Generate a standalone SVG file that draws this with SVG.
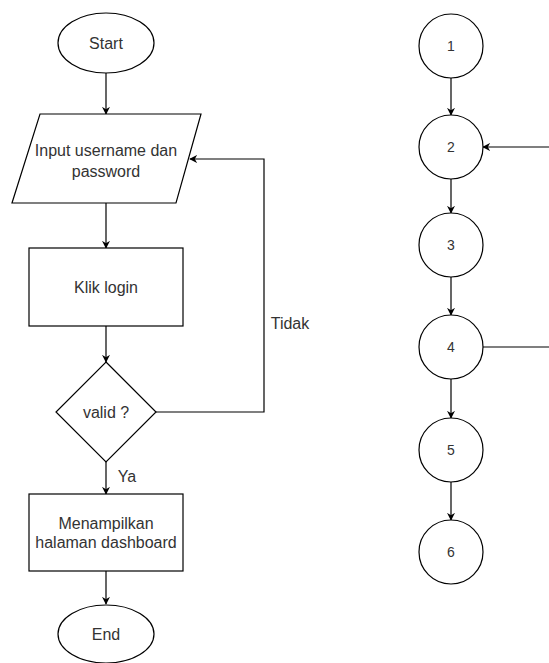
<svg xmlns="http://www.w3.org/2000/svg" width="549" height="663" viewBox="0 0 549 663">
  <defs>
    <marker id="arrow" viewBox="0 0 10 10" refX="9" refY="5" markerWidth="8" markerHeight="8" markerUnits="userSpaceOnUse" orient="auto">
      <path d="M0,0 L10,5 L0,10 L3,5 Z" fill="#000"/>
    </marker>
  </defs>
  <style>
    .shape { fill: #fff; stroke: #000; stroke-width: 1.2; }
    .edge { fill: none; stroke: #000; stroke-width: 1.2; }
    .lbl { font-family: "Liberation Sans", Arial, sans-serif; font-size: 16px; fill: #333; text-anchor: middle; dominant-baseline: central; }
    .num { font-size: 14px; }
  </style>
  <rect width="549" height="663" fill="#fff"/>

  <!-- flowchart connectors -->
  <g id="edges">
    <line class="edge" x1="106" y1="73" x2="106" y2="114" marker-end="url(#arrow)"/>
    <line class="edge" x1="106" y1="203" x2="106" y2="248" marker-end="url(#arrow)"/>
    <line class="edge" x1="106" y1="326" x2="106" y2="362" marker-end="url(#arrow)"/>
    <polyline class="edge" points="156,412 264,412 264,159 190,159" marker-end="url(#arrow)"/>
    <line class="edge" x1="106" y1="462" x2="106" y2="494" marker-end="url(#arrow)"/>
    <line class="edge" x1="106" y1="571" x2="106" y2="604" marker-end="url(#arrow)"/>
    <text class="lbl" x="290" y="323">Tidak</text>
    <text class="lbl" x="127" y="476">Ya</text>

    <!-- flow graph connectors -->
    <line class="edge" x1="451" y1="78" x2="451" y2="115" marker-end="url(#arrow)"/>
    <line class="edge" x1="451" y1="179" x2="451" y2="213" marker-end="url(#arrow)"/>
    <line class="edge" x1="451" y1="277" x2="451" y2="315" marker-end="url(#arrow)"/>
    <line class="edge" x1="451" y1="379" x2="451" y2="418" marker-end="url(#arrow)"/>
    <line class="edge" x1="451" y1="482" x2="451" y2="520" marker-end="url(#arrow)"/>
    <line class="edge" x1="549" y1="147" x2="483" y2="147" marker-end="url(#arrow)"/>
    <line class="edge" x1="483" y1="347" x2="549" y2="347"/>
  </g>

  <g id="start">
    <ellipse class="shape" cx="106" cy="43" rx="48" ry="30"/>
    <text class="lbl" x="106" y="43">Start</text>
  </g>
  <g id="input">
    <polygon class="shape" points="40,114 201,114 176,203 12,203"/>
    <text class="lbl" x="106" y="150">Input username dan</text>
    <text class="lbl" x="106" y="171">password</text>
  </g>
  <g id="klik-login">
    <rect class="shape" x="29" y="248" width="154" height="78"/>
    <text class="lbl" x="106" y="287">Klik login</text>
  </g>
  <g id="valid">
    <polygon class="shape" points="106,362 156,412 106,462 56,412"/>
    <text class="lbl" x="106" y="412">valid ?</text>
  </g>
  <g id="dashboard">
    <rect class="shape" x="29" y="494" width="154" height="77"/>
    <text class="lbl" x="106" y="523">Menampilkan</text>
    <text class="lbl" x="106" y="542">halaman dashboard</text>
  </g>
  <g id="end">
    <ellipse class="shape" cx="106" cy="634" rx="48" ry="29"/>
    <text class="lbl" x="106" y="634">End</text>
  </g>

  <g id="n1">
    <circle class="shape" cx="451" cy="46" r="32"/>
    <text class="lbl num" x="451" y="46">1</text>
  </g>
  <g id="n2">
    <circle class="shape" cx="451" cy="147" r="32"/>
    <text class="lbl num" x="451" y="147">2</text>
  </g>
  <g id="n3">
    <circle class="shape" cx="451" cy="245" r="32"/>
    <text class="lbl num" x="451" y="245">3</text>
  </g>
  <g id="n4">
    <circle class="shape" cx="451" cy="347" r="32"/>
    <text class="lbl num" x="451" y="347">4</text>
  </g>
  <g id="n5">
    <circle class="shape" cx="451" cy="450" r="32"/>
    <text class="lbl num" x="451" y="450">5</text>
  </g>
  <g id="n6">
    <circle class="shape" cx="451" cy="552" r="32"/>
    <text class="lbl num" x="451" y="552">6</text>
  </g>
</svg>
